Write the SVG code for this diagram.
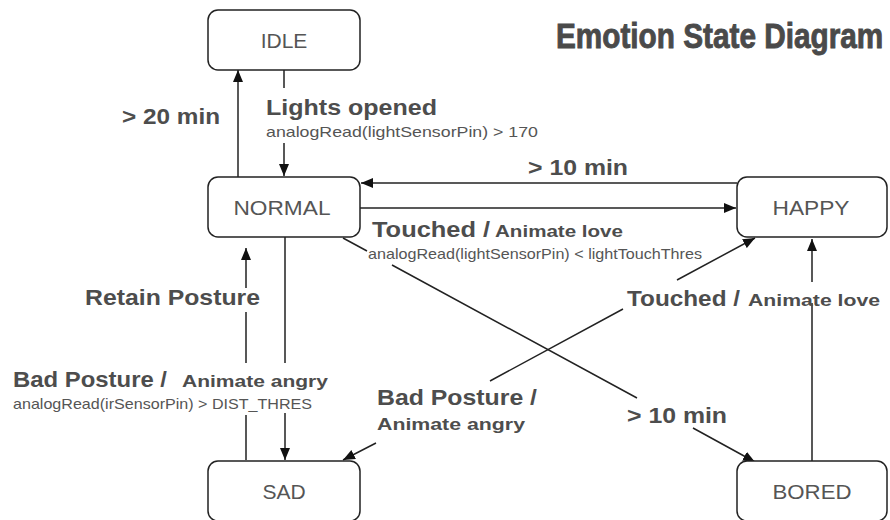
<svg xmlns="http://www.w3.org/2000/svg" width="890" height="520" viewBox="0 0 890 520">
<defs>
<style>
.box{fill:#fff;stroke:#222;stroke-width:1.5}
.node{font-family:"Liberation Sans",Arial,sans-serif;font-size:21px;fill:#555;text-anchor:middle}
.lbl{font-family:"Liberation Sans",Arial,sans-serif;font-weight:bold;font-size:22px;fill:#4d4d4d}
.sub{font-family:"Liberation Sans",Arial,sans-serif;font-weight:bold;font-size:17px;fill:#4d4d4d}
.sm{font-family:"Liberation Sans",Arial,sans-serif;font-size:15px;fill:#555}
.edge{fill:none;stroke:#222;stroke-width:1.5}
</style>
<marker id="ah" viewBox="0 0 12 10" refX="12" refY="5" markerWidth="12" markerHeight="10" markerUnits="userSpaceOnUse" orient="auto"><path d="M0,0 L12,5 L0,10 Z" fill="#111"/></marker>
</defs>
<rect width="890" height="520" fill="#fff"/>
<text transform="translate(556,48) scale(0.85,1)" x="0" y="0" font-family="'Liberation Sans',Arial,sans-serif" font-weight="bold" font-size="35" fill="#4a4a4a" stroke="#4a4a4a" stroke-width="0.9">Emotion State Diagram</text>
<g id="connectors">
<path class="edge" marker-end="url(#ah)" d="M238,177 L238,70"/>
<path class="edge" marker-end="url(#ah)" d="M284,70 L284,88 M284,143 L284,176"/>
<path class="edge" marker-end="url(#ah)" d="M737,183 L361,183"/>
<path class="edge" marker-end="url(#ah)" d="M360,208 L736,208"/>
<path class="edge" marker-end="url(#ah)" d="M343,238 L367,251 M392,265 L637,398 M693,428 L755,462"/>
<path class="edge" marker-end="url(#ah)" d="M490,381 L623,309 M677,280 L755,238"/>
<path class="edge" marker-end="url(#ah)" d="M376,443 L343,460"/>
<path class="edge" marker-end="url(#ah)" d="M812,461 L812,303 M812,282 L812,239"/>
<path class="edge" marker-end="url(#ah)" d="M246,460 L246,415 M246,363 L246,312 M246,288 L246,248"/>
<path class="edge" marker-end="url(#ah)" d="M285,237 L285,363 M285,413 L285,460"/>
</g>
<g id="idle"><rect class="box" x="208" y="10" width="152" height="60" rx="10"/><text class="node" x="284" y="48">IDLE</text></g>
<g id="normal"><rect class="box" x="208" y="177" width="152" height="60" rx="10"/><text class="node" x="282" y="215" textLength="97" lengthAdjust="spacingAndGlyphs">NORMAL</text></g>
<g id="happy"><rect class="box" x="737" y="177" width="150" height="60" rx="10"/><text class="node" x="811" y="215" textLength="77" lengthAdjust="spacingAndGlyphs">HAPPY</text></g>
<g id="sad"><rect class="box" x="208" y="461" width="152" height="60" rx="10"/><text class="node" x="284" y="499">SAD</text></g>
<g id="bored"><rect class="box" x="737" y="461" width="150" height="60" rx="10"/><text class="node" x="812" y="499" textLength="79" lengthAdjust="spacingAndGlyphs">BORED</text></g>
<g id="labels">
<text class="lbl" x="122" y="124" font-size="21" textLength="98" lengthAdjust="spacingAndGlyphs">&gt; 20 min</text>
<text class="lbl" x="266" y="115" textLength="171" lengthAdjust="spacingAndGlyphs">Lights opened</text>
<text class="sm" x="266" y="137" textLength="272" lengthAdjust="spacingAndGlyphs">analogRead(lightSensorPin) &gt; 170</text>
<text class="lbl" x="528" y="175" font-size="21" textLength="100" lengthAdjust="spacingAndGlyphs">&gt; 10 min</text>
<text class="lbl" x="372" y="237" textLength="118" lengthAdjust="spacingAndGlyphs">Touched /</text>
<text class="sub" x="495" y="237" textLength="128" lengthAdjust="spacingAndGlyphs">Animate love</text>
<text class="sm" x="368" y="259" textLength="334" lengthAdjust="spacingAndGlyphs">analogRead(lightSensorPin) &lt; lightTouchThres</text>
<text class="lbl" x="627" y="306" textLength="113" lengthAdjust="spacingAndGlyphs">Touched /</text>
<text class="sub" x="748" y="306" textLength="132" lengthAdjust="spacingAndGlyphs">Animate love</text>
<text class="lbl" x="85" y="305" textLength="175" lengthAdjust="spacingAndGlyphs">Retain Posture</text>
<text class="lbl" x="13" y="387" textLength="154" lengthAdjust="spacingAndGlyphs">Bad Posture /</text>
<text class="sub" x="182" y="387" textLength="146" lengthAdjust="spacingAndGlyphs">Animate angry</text>
<text class="sm" x="13" y="409" textLength="299" lengthAdjust="spacingAndGlyphs">analogRead(irSensorPin) &gt; DIST_THRES</text>
<text class="lbl" x="377" y="405" textLength="160" lengthAdjust="spacingAndGlyphs">Bad Posture /</text>
<text class="sub" x="377" y="430" textLength="148" lengthAdjust="spacingAndGlyphs">Animate angry</text>
<text class="lbl" x="627" y="423" font-size="21" textLength="100" lengthAdjust="spacingAndGlyphs">&gt; 10 min</text>
</g>
</svg>
